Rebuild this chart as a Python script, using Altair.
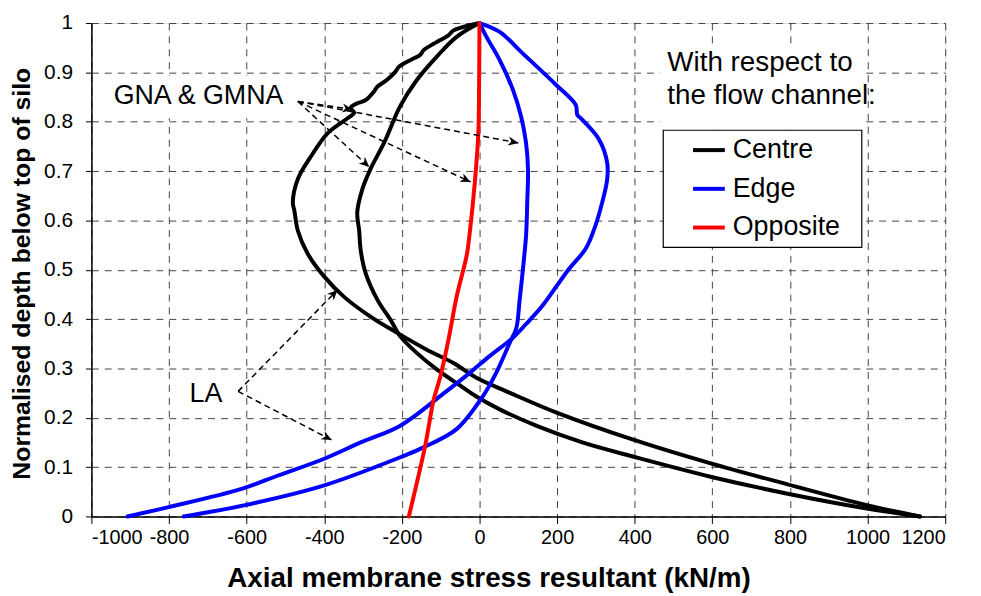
import math
import altair as alt
import pandas as pd

# ---------------- data ----------------
# Centre of flow channel (black) - outer curve (kinked near the top)
centre_a_x = [0, -42, -67, -80, -102, -118, -144, -153, -170, -195, -208, -217, -238, -263, -272,
              -293, -319, -332, -323, -340, -391, -434, -468, -481, -477, -468, -443, -400, -349,
              -281, -212, -136, -67, -8, 77, 197, 402, 598, 794, 998, 1135]
centre_a_y = [1.0, 0.992, 0.985, 0.975, 0.965, 0.958, 0.945, 0.935, 0.928, 0.918, 0.911, 0.901, 0.885,
              0.871, 0.861, 0.844, 0.836, 0.828, 0.818, 0.807, 0.777, 0.730, 0.684, 0.636, 0.620,
              0.579, 0.533, 0.486, 0.445, 0.405, 0.372, 0.338, 0.311, 0.281, 0.251, 0.211, 0.154,
              0.107, 0.065, 0.023, 0.0]
# Centre - inner curve
centre_b_x = [0, -59, -110, -161, -204, -246, -281, -302, -315, -310, -306, -293, -263, -229, -204,
              -161, -110, -55, -8, 52, 146, 265, 402, 598, 794, 998, 1135]
centre_b_y = [1.0, 0.972, 0.932, 0.885, 0.832, 0.757, 0.704, 0.663, 0.616, 0.579, 0.539, 0.492, 0.439,
              0.398, 0.365, 0.331, 0.298, 0.268, 0.243, 0.217, 0.184, 0.150, 0.120, 0.080, 0.046,
              0.016, 0.0]
# Edge of flow channel (blue) - outer curve
edge_a_x = [0, 52, 112, 197, 248, 252, 261, 308, 329, 329, 316, 299, 274, 231, 197, 160, 120, 86,
            26, -25, -93, -204, -306, -400, -519, -613, -801, -907]
edge_a_y = [1.0, 0.982, 0.938, 0.875, 0.834, 0.814, 0.807, 0.764, 0.717, 0.683, 0.636, 0.590, 0.543,
            0.502, 0.465, 0.425, 0.390, 0.362, 0.325, 0.291, 0.249, 0.184, 0.150, 0.117,
            0.083, 0.056, 0.019, 0.0]
# Edge - inner curve
edge_b_x = [0, 18, 52, 86, 107, 120, 125, 123, 120, 112, 103, 95, 78, 43, 9, -59, -153, -204, -400,
            -604, -762]
edge_b_y = [1.0, 0.972, 0.925, 0.865, 0.811, 0.757, 0.704, 0.636, 0.569, 0.502, 0.435, 0.382, 0.352,
            0.291, 0.244, 0.177, 0.137, 0.120, 0.063, 0.023, 0.0]
# Opposite the flow channel (red)
opp_x = [0, -1, -3, -12, -25, -33, -59, -80, -102, -118, -140, -182]
opp_y = [1.0, 0.878, 0.777, 0.677, 0.576, 0.529, 0.445, 0.358, 0.280, 0.237, 0.143, 0.0]

series = [
    ("Centre", "A", centre_a_x, centre_a_y),
    ("Centre", "B", centre_b_x, centre_b_y),
    ("Edge", "A", edge_a_x, edge_a_y),
    ("Edge", "B", edge_b_x, edge_b_y),
    ("Opposite", "A", opp_x, opp_y),
]
flows = ["Centre", "Edge", "Opposite"]
flow_colors = ["#000000", "#0000ff", "#ff0000"]

rows = []
for flow, run, xs, ys in series:
    for i, (xv, yv) in enumerate(zip(xs, ys)):
        rows.append({"x": xv, "y": yv, "flow": flow, "run": flow + run, "idx": i})
df = pd.DataFrame(rows)

# annotations
note_text = ["GNA & GMNA", "LA"]
note_x = [-724, -705]
note_y = [0.835, 0.231]
head_text = ["With respect to", "the flow channel:"]
head_x = [484, 484]
head_y = [0.903, 0.836]

arrow_x1 = [-468, -468, -468, -468, -622, -622]
arrow_y1 = [0.841, 0.841, 0.841, 0.841, 0.2535, 0.2535]
arrow_x2 = [-327, -284, -23, 100, -366, -381]
arrow_y2 = [0.825, 0.708, 0.678, 0.757, 0.459, 0.155]

W, H = 860, 497
XMIN, XMAX = -1000, 1200
FONT = "Liberation Sans"

angles = []
for a, b, c, d in zip(arrow_x1, arrow_y1, arrow_x2, arrow_y2):
    dxp = (c - a) * W / (XMAX - XMIN)
    dyp = -(d - b) * H
    angles.append(math.degrees(math.atan2(dyp, dxp)) % 360)
arrows = pd.DataFrame({"x": arrow_x1, "y": arrow_y1, "x2": arrow_x2, "y2": arrow_y2, "ang": angles})
notes = pd.DataFrame({"t": note_text, "x": note_x, "y": note_y})
heads = pd.DataFrame({"t": head_text, "x": head_x, "y": head_y})

xscale = alt.Scale(domain=[XMIN, XMAX], nice=False, zero=False)
yscale = alt.Scale(domain=[0, 1], nice=False, zero=False)

xaxis = alt.Axis(
    values=list(range(-1000, 1201, 200)), labelExpr="'' + datum.value", labelOverlap=False,
    labelFont=FONT, labelFontSize=20, labelColor="black", labelPadding=4,
    tickSize=7, tickColor="black", domainColor="black", domainWidth=1.5,
    grid=True, gridColor="#444444", gridDash=[7, 6], gridWidth=1,
    title="Axial membrane stress resultant (kN/m)", titleFont=FONT, titleFontSize=28,
    titleFontWeight="bold", titleColor="black", titleX=400, titleY=71,
    titleBaseline="alphabetic", titleAlign="center",
)
yaxis = alt.Axis(
    values=[round(i * 0.1, 1) for i in range(11)], labelExpr="format(datum.value, '.1~f')",
    labelOverlap=False,
    labelFont=FONT, labelFontSize=21, labelColor="black", labelPadding=13,
    tickSize=6, tickColor="black", domainColor="black", domainWidth=1.5,
    grid=True, gridColor="#444444", gridDash=[7, 6], gridWidth=1,
    title="Normalised depth below top of silo", titleFont=FONT, titleFontSize=25,
    titleFontWeight="bold", titleColor="black", titleX=-62, titleY=252, titleAngle=270,
    titleBaseline="alphabetic", titleAlign="center",
)

one = pd.DataFrame({"k": [0]})

color_enc = alt.Color("flow:N", scale=alt.Scale(domain=flows, range=flow_colors),
                      legend=alt.Legend(orient="none", legendX=604, legendY=110, title=None,
                                        symbolType="stroke", symbolSize=1024, symbolStrokeWidth=4,
                                        labelFont=FONT, labelFontSize=27, labelColor="black",
                                        labelOffset=6, rowPadding=8, padding=0))


def line_layer(flow):
    return alt.Chart(df).transform_filter(alt.datum.flow == flow).mark_line(
        strokeWidth=4, strokeJoin="round", strokeCap="round", interpolate="catmull-rom"
    ).encode(
        x=alt.X("x:Q", scale=xscale, axis=xaxis),
        y=alt.Y("y:Q", scale=yscale, axis=yaxis),
        color=color_enc,
        detail="run:N",
        order="idx:Q",
    )


box_notes = alt.Chart(one).mark_rect(fill="white").encode(
    x=alt.value(16), x2=alt.value(200), y=alt.value(53), y2=alt.value(96))
box_head = alt.Chart(one).mark_rect(fill="white").encode(
    x=alt.value(573), x2=alt.value(778), y=alt.value(23), y2=alt.value(108))
box_legend = alt.Chart(one).mark_rect(fill="white", stroke="black", strokeWidth=1.2).encode(
    x=alt.value(576), x2=alt.value(776), y=alt.value(108), y2=alt.value(226))

arrow_lines = alt.Chart(arrows).mark_rule(color="black", strokeWidth=1.5, strokeDash=[6, 4]).encode(
    x="x:Q", y="y:Q", x2="x2:Q", y2="y2:Q")
arrow_heads = alt.Chart(arrows).mark_point(
    shape="M0,0 L-1,-0.45 L-0.7,0 L-1,0.45 Z", filled=True, color="black", opacity=1, size=420
).encode(x="x2:Q", y="y2:Q", angle=alt.Angle("ang:Q", scale=None))

note_marks = alt.Chart(notes).mark_text(font=FONT, fontSize=27, color="black", align="center",
                                        baseline="alphabetic").encode(x="x:Q", y="y:Q", text="t:N")
head_marks = alt.Chart(heads).mark_text(font=FONT, fontSize=28, color="black", align="left",
                                        baseline="alphabetic").encode(x="x:Q", y="y:Q", text="t:N")

chart = alt.layer(
    box_notes, box_head, box_legend,
    line_layer("Centre"), line_layer("Edge"), line_layer("Opposite"),
    arrow_lines, arrow_heads, note_marks, head_marks
).properties(
    width=W, height=H,
    padding={"left": 84, "top": 13, "right": 28, "bottom": 80},
    autosize=alt.AutoSizeParams(type="none"),
).configure_view(stroke="#a0a0a0", strokeWidth=1.5).configure(background="white")

chart.save("out.html", embed_options={"renderer": "svg", "actions": False})
